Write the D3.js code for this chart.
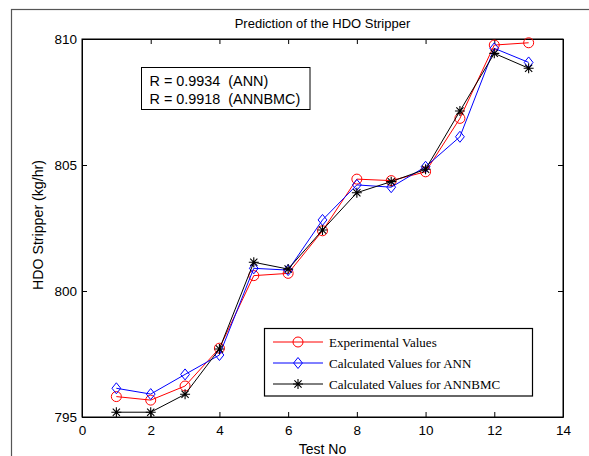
<!DOCTYPE html>
<html>
<head>
<meta charset="utf-8">
<script src="https://cdn.jsdelivr.net/npm/d3@7/dist/d3.min.js"></script>
<style>
  html, body { margin: 0; padding: 0; background: #fff; }
  svg { display: block; }
</style>
</head>
<body>
<svg id="chart" width="589" height="456"></svg>
<script>
// Test numbers and measured / predicted HDO stripper flow (kg/hr)
const testNo = [1, 2, 3, 4, 5, 6, 7, 8, 9, 10, 11, 12, 13];
const experimental = [795.81, 795.67, 796.23, 797.73, 800.61, 800.70, 802.39, 804.44, 804.38, 804.73, 806.85, 809.76, 809.85];
const annValues    = [796.14, 795.91, 796.69, 797.46, 800.90, 800.83, 802.82, 804.21, 804.12, 804.93, 806.12, 809.63, 809.07];
const annbmcValues = [795.19, 795.19, 795.90, 797.70, 801.14, 800.87, 802.42, 803.90, 804.34, 804.83, 807.14, 809.43, 808.84];

const xTicks = [0, 2, 4, 6, 8, 10, 12, 14];
const yTicks = [795, 800, 805, 810];
const seriesNames = ["Experimental Values", "Calculated Values for ANN", "Calculated Values for ANNBMC"];
const rLines = ["R = 0.9934  (ANN)", "R = 0.9918  (ANNBMC)"];

const svg = d3.select("#chart");
const sans = "Liberation Sans, Arial, sans-serif";
const serif = "Liberation Serif, Times New Roman, serif";

// figure frame
svg.append("rect")
  .attr("x", 11.5).attr("y", 9.5)
  .attr("width", 620).attr("height", 470)
  .attr("fill", "none").attr("stroke", "#555").attr("stroke-width", 1.2);

const plotL = 82, plotR = 563, plotT = 39, plotB = 417;
const x = d3.scaleLinear().domain([0, 14]).range([plotL, plotR]);
const y = d3.scaleLinear().domain([795, 810]).range([plotB, plotT]);

// axes with inward ticks on all four sides
const tickLen = 5;
const axB = svg.append("g").attr("transform", `translate(0,${plotB})`)
  .call(d3.axisBottom(x).tickValues(xTicks).tickSizeInner(-tickLen).tickSizeOuter(0).tickPadding(8.5));
const axT = svg.append("g").attr("transform", `translate(0,${plotT})`)
  .call(d3.axisTop(x).tickValues(xTicks).tickSizeInner(-tickLen).tickSizeOuter(0).tickFormat(""));
const axL = svg.append("g").attr("transform", `translate(${plotL},0)`)
  .call(d3.axisLeft(y).tickValues(yTicks).tickSizeInner(-tickLen).tickSizeOuter(0).tickPadding(5));
const axR = svg.append("g").attr("transform", `translate(${plotR},0)`)
  .call(d3.axisRight(y).tickValues(yTicks).tickSizeInner(-tickLen).tickSizeOuter(0).tickFormat(""));
[axB, axT, axL, axR].forEach(g => {
  g.select(".domain").attr("stroke", "#000");
  g.selectAll(".tick line").attr("stroke", "#000");
  g.selectAll("text").attr("font-family", sans).attr("font-size", 13.5).attr("fill", "#000");
});

// plot box
svg.append("rect")
  .attr("x", plotL).attr("y", plotT)
  .attr("width", plotR - plotL).attr("height", plotB - plotT)
  .attr("fill", "none").attr("stroke", "#000").attr("stroke-width", 1);

// titles
svg.append("text").attr("x", (plotL + plotR) / 2).attr("y", 28)
  .attr("text-anchor", "middle").attr("font-family", sans).attr("font-size", 13)
  .text("Prediction of the HDO Stripper");
svg.append("text").attr("x", (plotL + plotR) / 2).attr("y", 454)
  .attr("text-anchor", "middle").attr("font-family", sans).attr("font-size", 14)
  .text("Test No");
svg.append("text")
  .attr("transform", `translate(43,${(plotT + plotB) / 2 - 3}) rotate(-90)`)
  .attr("text-anchor", "middle").attr("font-family", sans).attr("font-size", 14.2)
  .text("HDO Stripper (kg/hr)");

// marker shapes
function drawMarker(g, kind, cx, cy, color) {
  if (kind === "circle") {
    g.append("circle").attr("cx", cx).attr("cy", cy).attr("r", 5)
      .attr("fill", "none").attr("stroke", color).attr("stroke-width", 1);
  } else if (kind === "diamond") {
    const s = 5.5;
    g.append("path")
      .attr("d", `M${cx},${cy - s}L${cx + s * 0.8},${cy}L${cx},${cy + s}L${cx - s * 0.8},${cy}Z`)
      .attr("fill", "none").attr("stroke", color).attr("stroke-width", 1);
  } else {
    const s = 5, d = 3.6;
    g.append("path")
      .attr("d", `M${cx - s},${cy}L${cx + s},${cy}M${cx},${cy - s}L${cx},${cy + s}` +
                 `M${cx - d},${cy - d}L${cx + d},${cy + d}M${cx - d},${cy + d}L${cx + d},${cy - d}`)
      .attr("fill", "none").attr("stroke", color).attr("stroke-width", 1.1);
  }
}

const series = [
  { values: experimental, color: "#ff0000", marker: "circle" },
  { values: annValues, color: "#0000ff", marker: "diamond" },
  { values: annbmcValues, color: "#000000", marker: "star" }
];

const line = d3.line().x(d => x(d[0])).y(d => y(d[1]));
series.forEach(s => {
  const pts = testNo.map((t, i) => [t, s.values[i]]);
  const g = svg.append("g");
  g.append("path").datum(pts).attr("d", line)
    .attr("fill", "none").attr("stroke", s.color).attr("stroke-width", 1);
  pts.forEach(p => drawMarker(g, s.marker, x(p[0]), y(p[1]), s.color));
});

// correlation box
const rb = svg.append("g");
rb.append("rect").attr("x", 141.5).attr("y", 67.5).attr("width", 168.5).attr("height", 42)
  .attr("fill", "#fff").attr("stroke", "#000").attr("stroke-width", 1);
rLines.forEach((t, i) => {
  rb.append("text").attr("x", 149.5).attr("y", 86 + i * 18)
    .attr("font-family", sans).attr("font-size", 14.4)
    .text(t.replace(/  /g, "\u00a0 "));
});

// legend
const lg = svg.append("g");
lg.append("rect").attr("x", 264.5).attr("y", 328.5).attr("width", 268).attr("height", 67.5)
  .attr("fill", "#fff").attr("stroke", "#000").attr("stroke-width", 1.2);
const rowY = [342, 363, 384];
series.forEach((s, i) => {
  lg.append("line").attr("x1", 273).attr("x2", 323).attr("y1", rowY[i]).attr("y2", rowY[i])
    .attr("stroke", s.color).attr("stroke-width", 1);
  drawMarker(lg, s.marker, 298, rowY[i], s.color);
  lg.append("text").attr("x", 329).attr("y", rowY[i] + 4.5)
    .attr("font-family", serif).attr("font-size", 13).text(seriesNames[i]);
});
</script>
</body>
</html>
